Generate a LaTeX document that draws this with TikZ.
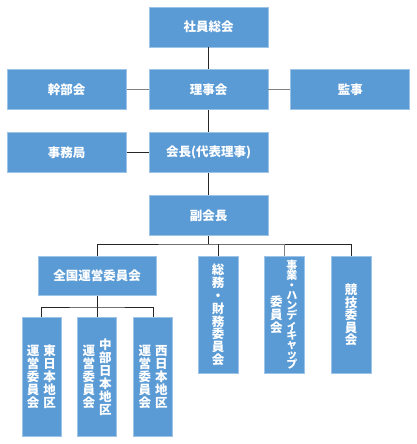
\documentclass[tikz,border=0pt]{standalone}
\usepackage{fontspec}
\setmainfont{Noto Sans CJK JP}
\usetikzlibrary{positioning}

\definecolor{boxblue}{RGB}{91,155,213}
\definecolor{boxedge}{RGB}{157,195,230}
\definecolor{linegray}{RGB}{128,128,128}

% one column of upright characters, read top to bottom
\newcommand{\tatecol}[2]{\parbox[c]{1em}{\centering\lineskiplimit=-20pt\baselineskip=#1\relax #2}}

\begin{document}
\begin{tikzpicture}[x=1pt,y=-1pt,
    every node/.style={font=\bfseries\fontsize{12.5}{15}\selectfont, text=white},
    hbox/.style={draw=boxedge,fill=boxblue,line width=0.8pt,minimum width=119pt,minimum height=40pt,inner sep=0pt},
    vbox/.style={hbox,minimum width=40pt,minimum height=117pt,anchor=north},
    link/.style={draw=black!85,line width=0.8pt},
    glink/.style={draw=linegray,line width=1pt}
]
\useasboundingbox (0,0) rectangle (417,444);

% Top
\node[hbox] (soukai) at (208.5,27) {社員総会};
\node[hbox, below=22pt of soukai] (rijikai) {理事会};
\node[hbox, left=22pt of rijikai] (kanbu) {幹部会};
\node[hbox, right=22pt of rijikai] (kanji) {監事};

% Middle column
\node[hbox, below=22pt of rijikai] (kaicho) {会長(代表理事)};
\node[hbox, left=22pt of kaicho] (jimu) {事務局};
\node[hbox, below=22pt of kaicho] (fuku) {副会長};

% Committees
\node[hbox, minimum width=118pt, minimum height=39pt, anchor=north] (zenkoku) at (97,256) {全国運営委員会};
\node[vbox] (somu) at (218,256) {\tatecol{12.8pt}{総\\務\\・\\財\\務\\委\\員\\会}};
\node[vbox] (jigyo) at (284,256) {\tatecol{13pt}{委\\員\\会}\hspace{3pt}\tatecol{9.9pt}{\fontsize{11}{9.9}\selectfont 事\\業\\・\\ハ\\ン\\デ\\ィ\\キ\\ャ\\ッ\\プ}};
\node[vbox] (kyogi) at (351,256) {\tatecol{12.5pt}{競\\技\\委\\員\\会}};

% Regional committees
\node[vbox, minimum width=39pt, minimum height=119pt] (higashi) at (41.5,317) {\tatecol{13pt}{運\\営\\委\\員\\会}\hspace{4pt}\tatecol{13pt}{東\\日\\本\\地\\区}};
\node[vbox, minimum width=39pt, minimum height=119pt] (chubu) at (97,317) {\tatecol{13pt}{運\\営\\委\\員\\会}\hspace{4pt}\tatecol{13pt}{中\\部\\日\\本\\地\\区}};
\node[vbox, minimum width=39pt, minimum height=119pt] (nishi) at (153,317) {\tatecol{13pt}{運\\営\\委\\員\\会}\hspace{4pt}\tatecol{13pt}{西\\日\\本\\地\\区}};

% Connections (vertical)
\draw[link] (soukai) -- (rijikai);
\draw[link] (rijikai) -- (kaicho);
\draw[link] (kaicho) -- (fuku);

% Side boxes
\draw[glink] (kanbu) -- (rijikai);
\draw[glink] (rijikai) -- (kanji);
\draw[link] (jimu) -- (kaicho);

% Branches under fuku
\coordinate (bus) at (218,244);
\draw[link] (fuku) -- (fuku.south |- bus);
\draw[link] (zenkoku.north) |- (bus) -| (kyogi.north);
\draw[link] (somu.north) -- (somu.north |- bus);
\draw[glink] (jigyo.north) -- (jigyo.north |- bus);

% Branches under zenkoku
\coordinate (bus2) at (97,307);
\draw[link] (zenkoku) -- (chubu);
\draw[link] (higashi.north) |- (bus2) -| (nishi.north);

\end{tikzpicture}
\end{document}
